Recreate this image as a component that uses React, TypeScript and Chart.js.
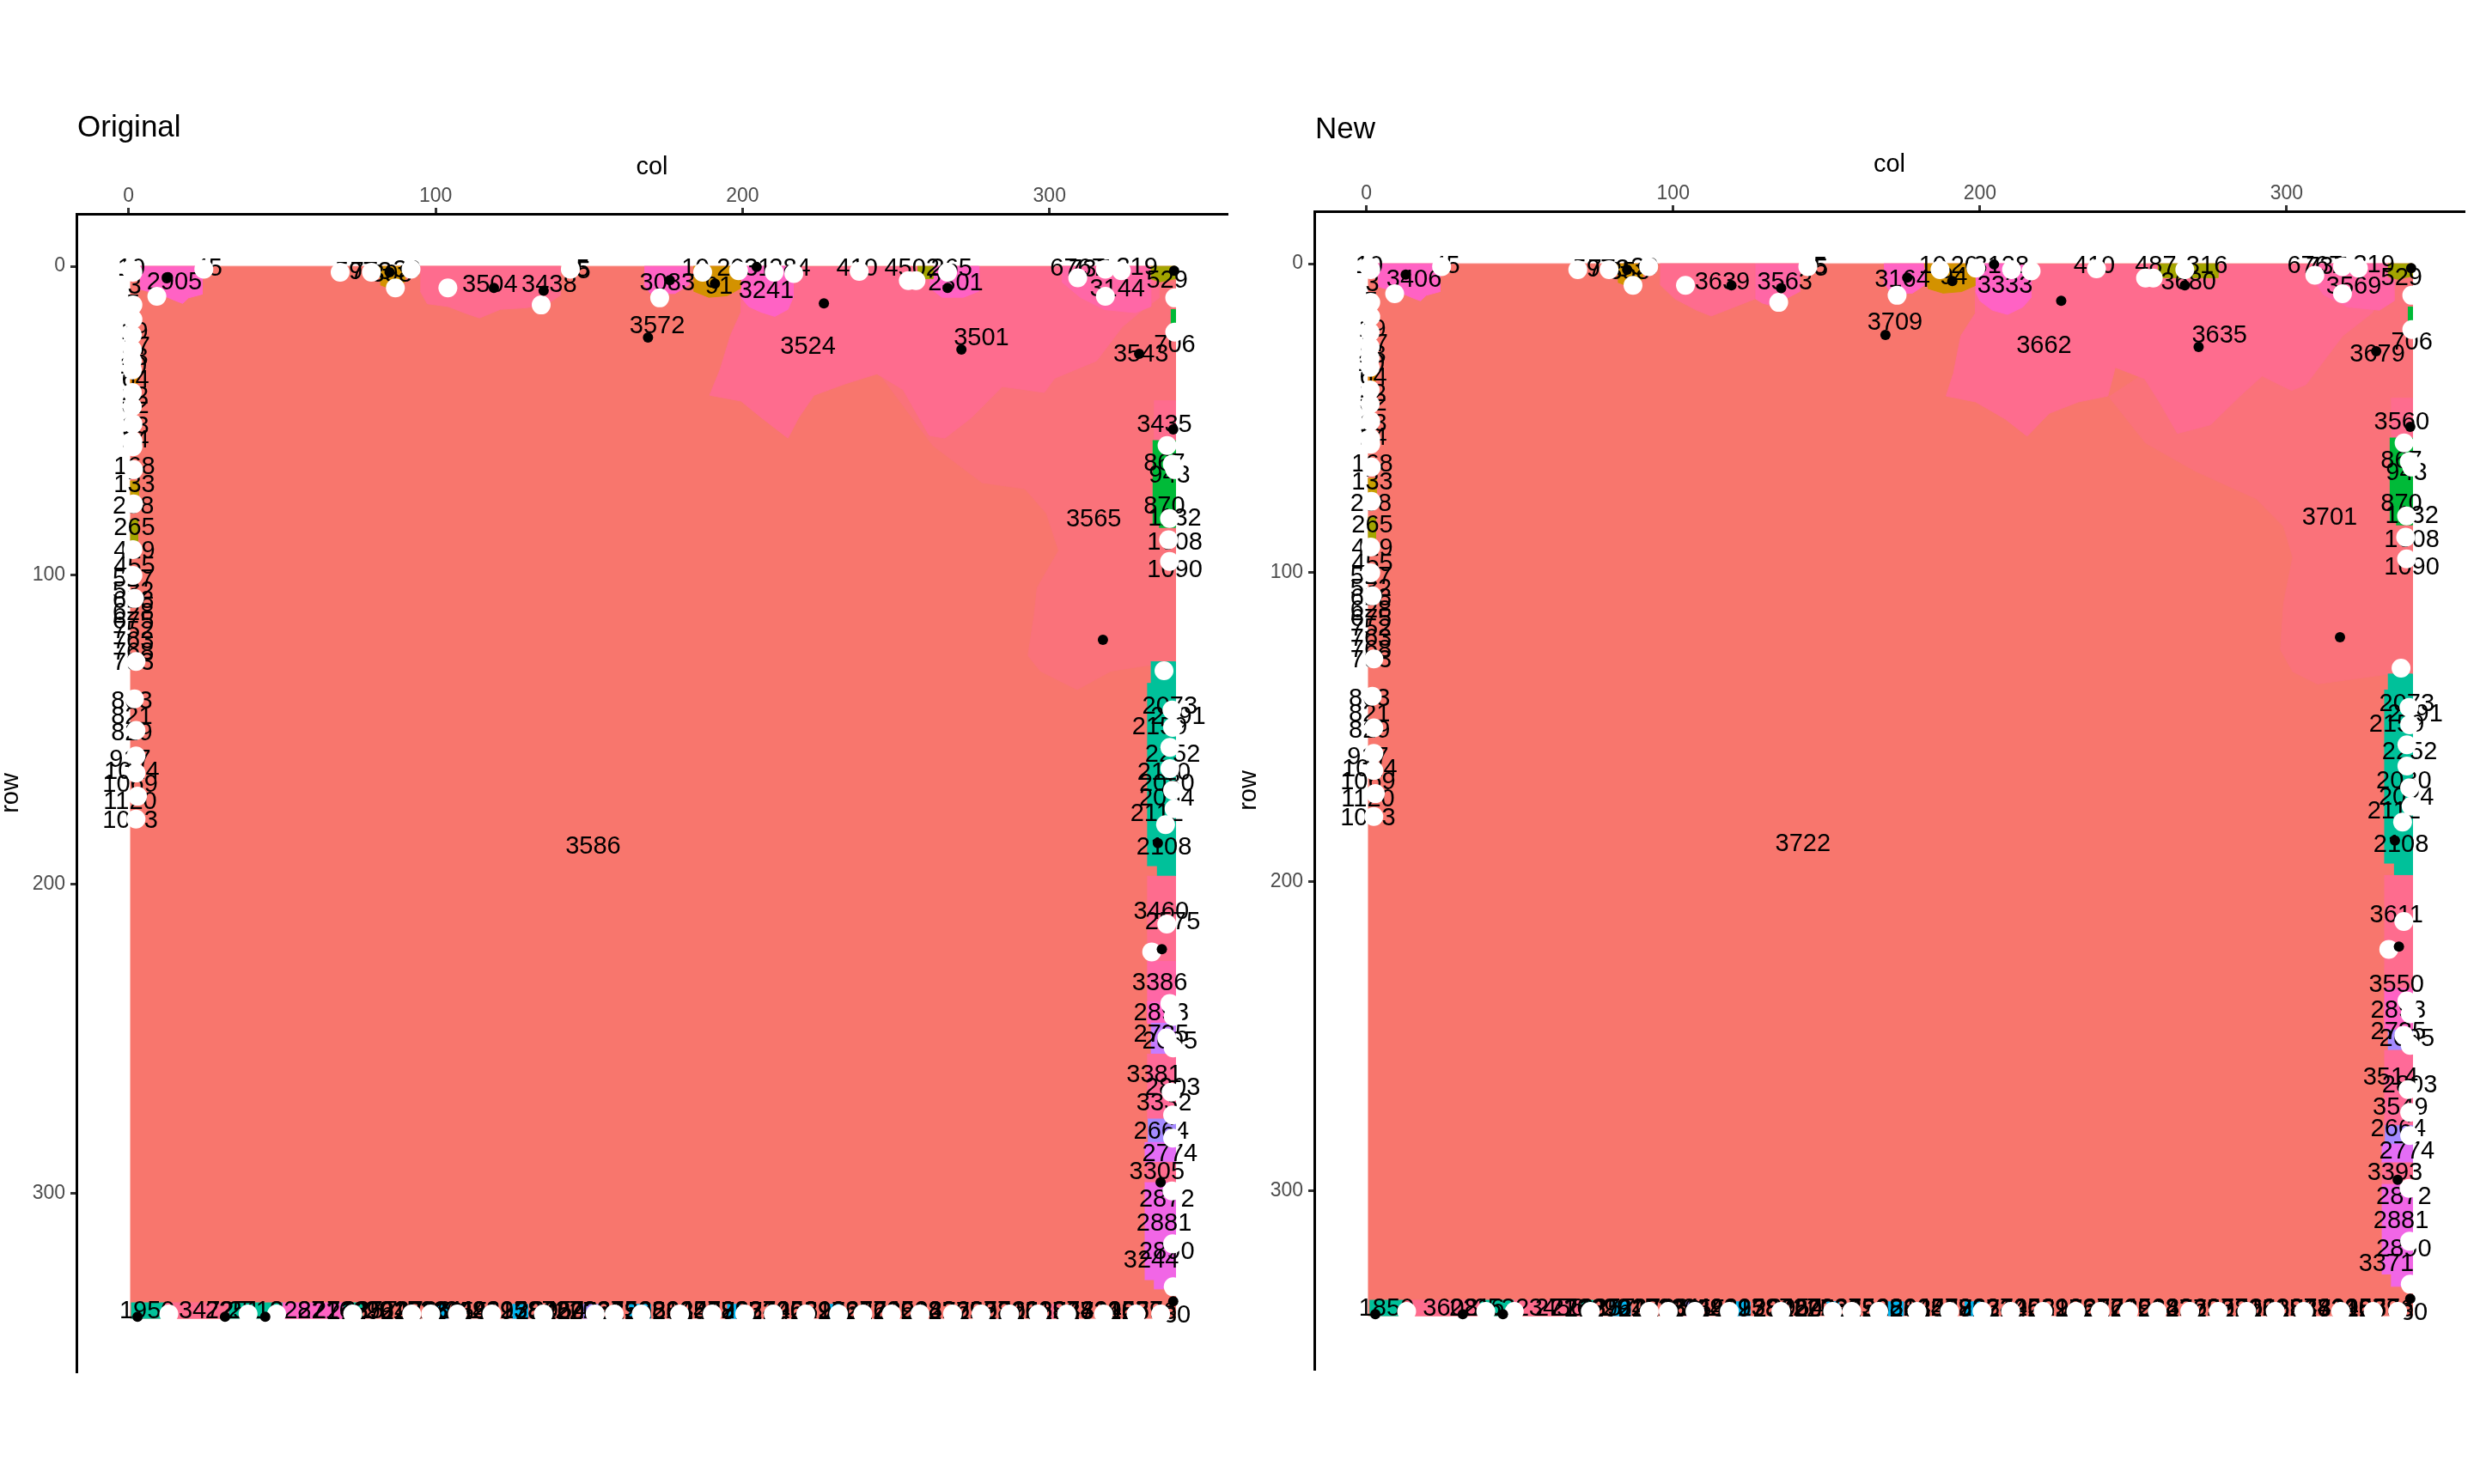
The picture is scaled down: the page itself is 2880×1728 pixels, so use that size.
import React, { useEffect, useRef } from 'react';
import { Chart, registerables } from 'chart.js';

Chart.register(...registerables);

type P = [number, number];
type L = [number, number, string];
type S = [string, number, number, number, number];

const FONT = '"Liberation Sans", Arial, Helvetica, sans-serif';

// axis ticks
const COL_TICKS = [0, 100, 200, 300];
const ROW_TICKS = [0, 100, 200, 300];
const AXIS_MIN = -17;
const AXIS_MAX = 358;

// region category colours
const PALETTE: Record<string, string> = {
  main: '#F8766D', soft: '#FA727A', hot: '#FE6C8E', hot2: '#FF6A98', pink2: '#FF67A6',
  magenta: '#FF62C4', ochre: '#D39200', olive: '#A3A500', gold: '#C8A000', orange: '#E58700',
  green: '#00BA38', teal: '#00C19A', cyan: '#00B4EF', purple: '#C77CFF', lavender: '#A58AFF',
  violet: '#E46DF6', orchid: '#F166E6',
};

// ---------- region outlines (col,row) ----------
const MAIN_AREA: P[] = [[0.5, 0], [341, 0], [341, 340.5], [0.5, 340.5]];

const ORIG_SOFT: P[] = [[244, 34], [262, 58], [278, 70], [292, 72], [299, 80], [303, 92], [296, 104], [295, 113], [293, 126], [297, 131], [309, 137], [320, 131], [333, 129], [341, 129], [341, 5], [300, 5]];
const ORIG_HOT: P[] = [[199.5, 0], [199.5, 14.8], [196.1, 22.3], [192.7, 33.4], [189.3, 41.7], [199.5, 43.6], [206.3, 49.1], [214.8, 55.6], [218.2, 49.1], [223.3, 41.7], [233.5, 38], [243.8, 34.8], [252.3, 39.9], [260.8, 54.7], [265.9, 55.6], [274.4, 49.1], [284.6, 38.9], [298.3, 40.8], [301.7, 36.2], [315.3, 30.6], [323.8, 19.5], [330.6, 13.9], [335.7, 10.2], [335.7, 0]];
const ORIG_HOT_SMALL: P[] = [[95, 0], [140.7, 0], [140.7, 9.3], [137.3, 11.6], [129.7, 13.4], [121.1, 13.9], [114.3, 16.7], [110.1, 15.3], [104.1, 13], [97.3, 12.1], [95, 8]];
const MAG_TOP_LEFT: P[] = [[3.7, 0], [24, 0], [24, 9], [19.5, 10.2], [17.6, 12], [15, 11], [11, 9.3], [3.7, 7.4]];
const OCHRE_A: P[] = [[81.5, 0], [90, 0], [90, 5], [86, 7.5], [82, 6]];
const ORIG_MAG_3083: P[] = [[168, 0], [182.5, 0], [182.5, 6], [178, 8.8], [170, 8.8], [168, 6]];
const ORIG_OCHRE_B: P[] = [[184, 0], [199.5, 0], [199.5, 7], [195, 9.5], [189, 10], [184, 8]];
const ORIG_MAG_3241: P[] = [[199.5, 0], [216.5, 0], [216.5, 10], [214.8, 13.9], [210.5, 16.2], [206, 14.8], [202, 13], [199.5, 10]];
const ORIG_MAG_2301: P[] = [[261, 0], [277, 0], [277, 8], [272, 10], [265, 10], [261, 7]];
const ORIG_OLIVE_A: P[] = [[257, 0], [262, 0], [262, 4], [257, 4]];
const ORIG_PINK_3144: P[] = [[304, 0], [333, 0], [333, 13], [328, 15], [318, 14], [310, 10], [304, 5]];
const OLIVE_TR: P[] = [[333, 0], [341, 0], [341, 4], [336, 5], [333, 4]];

const NEW_SOFT: P[] = [[242, 43], [254, 58], [270, 67], [290, 76], [299, 85], [302, 95], [299, 110], [298, 125], [302, 132], [310, 136], [332, 133], [341, 133], [341, 5], [300, 5]];
const NEW_HOT: P[] = [[198.6, 0], [198.6, 15.9], [193.8, 23.3], [191.4, 35.4], [189, 42.8], [198.6, 44.7], [208.2, 50.2], [215.4, 55.8], [222.6, 48.4], [232.1, 44.7], [241.7, 42.8], [244.1, 33.5], [253.7, 37.2], [258.5, 44.7], [264.4, 54.9], [275.2, 52.1], [284.8, 42.8], [292, 36.3], [301.6, 41], [306.3, 39.1], [318.3, 23.3], [327.9, 15.9], [330.3, 11.3], [330.3, 0]];
const NEW_HOT_SMALL: P[] = [[95.7, 0], [126.8, 0], [126.8, 11.3], [119.6, 14.1], [112.4, 16.9], [107.6, 15], [100.5, 11.3], [95.7, 6.7]];
const NEW_PINK_3563: P[] = [[126.8, 0], [141.2, 0], [141.2, 9], [136.4, 11.5], [134, 14.1], [129, 12.7], [126.8, 11.3]];
const NEW_MAG_3164: P[] = [[168.7, 0], [181.8, 0], [181.8, 7], [178, 9.5], [171, 9.5], [168.7, 6]];
const NEW_OCHRE_B: P[] = [[181.8, 0], [198.6, 0], [198.6, 7], [194, 9], [188, 9.5], [183, 8]];
const NEW_MAG_3333: P[] = [[198.6, 0], [216.6, 0], [216.6, 11], [214, 14], [209, 16.4], [204, 15], [200, 12], [198.6, 9]];
const NEW_OLIVE_B: P[] = [[258, 0], [277.6, 0], [277.6, 4.5], [258, 4.5]];
const NEW_PINK_3569: P[] = [[308.7, 0], [335, 0], [335, 12], [330.3, 15], [320, 14], [312, 10], [308.7, 5]];

// narrow edge strips: [category, col0, row0, col1, row1]
const ORIG_STRIPS: S[] = [
  ['hot', 334, 43.5, 341, 56.4], ['green', 333.6, 56.4, 341, 83.4], ['green', 335.7, 83.4, 341, 84.5], ['green', 339.5, 14, 341, 21],
  ['teal', 333, 128, 341, 135], ['teal', 331.8, 135, 341, 194], ['teal', 335, 194, 341, 197.4],
  ['hot', 331.8, 197.4, 341, 225], ['pink2', 331.8, 225, 341, 238], ['magenta', 331.8, 238, 341, 245],
  ['purple', 333, 245, 341, 255], ['hot2', 331.8, 255, 341, 276], ['lavender', 332, 276, 341, 283.6],
  ['violet', 331, 283.6, 341, 290], ['hot', 331, 290, 341, 296.6], ['orchid', 331, 296.6, 341, 328], ['orchid', 334, 328, 341, 331],
  ['orange', 0.5, 35.5, 3, 38], ['gold', 0.5, 69.5, 3.2, 75], ['olive', 0.5, 82, 3, 89],
  ['teal', 0.8, 335.5, 11.6, 340.5], ['hot', 11.6, 335.5, 32.7, 340.5], ['teal', 32.7, 335.5, 50.1, 340.5],
  ['magenta', 50.1, 335.5, 70, 340.5], ['teal', 70, 335.5, 76, 340.5], ['cyan', 100, 336, 104, 340.5],
  ['cyan', 125, 336, 130, 340.5], ['lavender', 148, 336, 153, 340.5], ['cyan', 163, 336, 170, 340.5],
  ['cyan', 195, 336, 199, 340.5], ['cyan', 228, 336, 232, 340.5], ['hot', 300, 336, 303, 340.5],
];
const NEW_STRIPS: S[] = [
  ['hot', 334, 43.5, 341, 56.4], ['green', 333.6, 56.4, 341, 83.4], ['green', 335.7, 83.4, 341, 84.5], ['green', 339.5, 14, 341, 21],
  ['teal', 333, 132.8, 341, 138], ['teal', 331.8, 138, 341, 194], ['teal', 335, 194, 341, 198],
  ['hot', 331.8, 198, 341, 234.6], ['magenta', 331.8, 234.6, 341, 248], ['lavender', 333, 248, 341, 254.6],
  ['hot2', 331.8, 254.6, 341, 279], ['lavender', 332, 279, 341, 285], ['violet', 331, 285, 341, 291],
  ['hot', 331, 291, 341, 298], ['orchid', 331, 298, 341, 327], ['orchid', 334, 327, 341, 331],
  ['orange', 0.5, 35.5, 3, 38], ['gold', 0.5, 69.5, 3.2, 75], ['olive', 0.5, 82, 3, 89],
  ['teal', 1, 335.5, 12, 340.5], ['hot', 13, 335.5, 37, 340.5], ['teal', 37, 335.5, 48, 340.5],
  ['hot', 48, 335.5, 70, 340.5], ['teal', 70, 335.5, 74, 340.5], ['cyan', 80, 336, 86, 340.5],
  ['lavender', 104, 336, 108, 340.5], ['cyan', 120, 336, 125, 340.5], ['cyan', 150, 336, 154, 340.5],
  ['cyan', 170, 336, 175, 340.5], ['cyan', 195, 336, 200, 340.5],
];

// ---------- text labels (col,row,text) ----------
const EDGE_LEFT_LABELS: L[] = [
  [1.9, 6.5, '3'], [1.5, 12.5, '5'], [1.9, 21.3, '19'], [2.5, 26, '17'], [1.9, 29.7, '13'], [1.5, 32.4, '10'],
  [2.2, 37, '64'], [2, 42.2, '12'], [2.2, 45.4, '32'], [2.2, 51.9, '13'], [2.2, 56.5, '14'], [1.9, 64.9, '168'],
  [1.9, 70.9, '133'], [1.5, 77.9, '208'], [1.9, 84.8, '265'], [1.9, 92.2, '419'], [1.9, 97.3, '455'], [1.5, 101.5, '517'],
  [1.5, 105.2, '532'], [1.5, 108.5, '658'], [1.5, 112.2, '628'], [1.5, 115, '675'], [1.5, 118.2, '752'], [1.5, 121.4, '763'],
  [1.5, 125.1, '768'], [1.5, 128.4, '793'], [1, 140.9, '803'], [1, 146, '821'], [1, 151.1, '829'], [0.5, 159.9, '917'],
  [1, 163.6, '1014'], [0.5, 167.8, '1069'], [0.5, 173.3, '1120'], [0.5, 179.4, '1093'],
];
const TOP_SMALL_LABELS: L[] = [
  [0.9, 0.9, '10'], [26, 0.9, '45'], [74, 1.9, '597'], [79, 1.9, '773'], [90.7, 1.4, '30'], [146, 1.5, '35'],
  [148, 1, '5'], [184.6, 0.9, '10'], [237.3, 0.9, '410'], [309.2, 0.9, '6767'], [313, 1.2, '737'], [328.5, 0.5, '319'],
  [340.8, 25.5, '706'],
];
const RIGHT_EDGE_LABELS: L[] = [
  [337.4, 64, '867'], [339.1, 67.7, '943'], [337.4, 77.9, '870'], [340.8, 81.6, '1132'], [340.8, 89.5, '1008'],
  [340.8, 98.3, '1090'], [339.2, 142.7, '2073'], [341.9, 145.9, '2191'], [335.9, 149.2, '2159'], [340.1, 158, '2252'],
  [335, 177.4, '2112'], [337.3, 188.1, '2108'], [336.4, 241.8, '2893'], [336.4, 248.8, '2735'], [339.2, 251.1, '2605'],
  [340.1, 265.9, '2803'], [336.4, 280.3, '2664'], [339.2, 287.3, '2774'], [338.2, 302.1, '2872'], [337.3, 310, '2881'],
  [338.2, 319.2, '2890'], [341.5, 339.6, '30'],
];
const BOTTOM_LABELS: L[] = [
  [64, 338.2, '2716'], [69, 338.2, '2748'], [78.6, 338.2, '3257'], [86, 338.2, '2915'], [96, 338.2, '2766'],
  [104, 338.2, '2841'], [112, 338.2, '2493'], [121, 338.2, '2615'], [130, 338.2, '2387'], [140, 338.2, '2954'],
  [148, 338.2, '2708'], [157, 338.2, '2679'], [166, 338.2, '2563'], [175, 338.2, '2812'], [184, 338.2, '2457'],
  [193, 338.2, '2398'], [202, 338.2, '2634'], [211, 338.2, '2726'], [220, 338.2, '2581'], [229, 338.2, '2903'],
  [238, 338.2, '2672'], [247, 338.2, '2749'], [256, 338.2, '2518'], [265, 338.2, '2836'], [274, 338.2, '2695'],
  [283, 338.2, '2770'], [292, 338.2, '2611'], [301, 338.2, '2884'], [310, 338.2, '2742'], [319, 338.2, '3195'],
  [328, 338.2, '2857'],
  [73.5, 338.6, '2187'], [82, 338.6, '2964'], [91, 338.6, '2271'], [100, 338.6, '2830'], [108, 338.6, '2655'],
  [116.5, 338.6, '2419'], [125.5, 338.6, '2978'], [135, 338.6, '2542'], [144, 338.6, '2603'], [152.5, 338.6, '2791'],
  [161.5, 338.6, '2436'], [170.5, 338.6, '2958'], [179.5, 338.6, '2684'], [188.5, 338.6, '2517'], [197.5, 338.6, '2862'],
  [206.5, 338.6, '2739'], [215.5, 338.6, '2405'], [224.5, 338.6, '2697'], [233.5, 338.6, '2921'], [242.5, 338.6, '2568'],
  [251.5, 338.6, '2804'], [260.5, 338.6, '2643'], [269.5, 338.6, '2779'], [278.5, 338.6, '2592'], [287.5, 338.6, '2815'],
  [296.5, 338.6, '2667'], [305.5, 338.6, '2938'], [314.5, 338.6, '2724'], [323.5, 338.6, '3108'], [332.5, 338.6, '2796'],
];

const ORIG_LABELS: L[] = [
  [14.9, 5.1, '2905'], [85.6, 2.8, '398'], [117.7, 6, '3504'], [137, 6, '3438'], [175.5, 5.6, '3083'], [192.3, 6.5, '91'],
  [196.1, 0.9, '20'], [205, 0.9, '31'], [215.4, 0.9, '284'], [207.7, 7.9, '3241'], [255.2, 0.9, '4502'], [268.1, 0.9, '265'],
  [269.4, 5.6, '2301'], [322.1, 7.4, '3144'], [338.3, 4.6, '529'], [172.2, 19.5, '3572'], [221.3, 26, '3524'],
  [277.8, 23.2, '3501'], [329.8, 28.7, '3543'], [337.4, 51.4, '3435'], [314.4, 82, '3565'], [151.3, 188, '3586'],
  [337.3, 164, '2110'], [338.2, 167.7, '2080'], [338.2, 172.3, '2054'], [336.4, 209, '3460'], [340.1, 212.2, '2575'],
  [335.9, 232.1, '3386'], [334.1, 261.8, '3381'], [337.3, 271, '3332'], [335, 293.3, '3305'], [333.1, 322, '3244'],
  [6, 338.2, '1950'], [25.3, 338.2, '3472'], [33.9, 338.2, '2251'], [41.4, 338.2, '2510'], [55, 338.2, '3282'],
];
const NEW_LABELS: L[] = [
  [15.5, 5.3, '3406'], [85.6, 2.8, '358'], [116, 6.2, '3639'], [136.4, 6.2, '3563'], [174.7, 5.3, '3164'], [191.4, 4.4, '94'],
  [195, 0.9, '20'], [207, 0.9, '3128'], [208.2, 7.1, '3333'], [257.3, 0.9, '487'], [274, 0.9, '316'], [268, 6.2, '3680'],
  [321.9, 7.6, '3569'], [337.5, 4.8, '529'], [172.3, 19.2, '3709'], [220.9, 26.6, '3662'], [278.1, 23.3, '3635'],
  [329.6, 29.4, '3679'], [337.5, 51.3, '3560'], [314, 82.2, '3701'], [142.3, 188, '3722'], [338.2, 167.6, '2030'],
  [339, 172.8, '2024'], [335.8, 210.9, '3611'], [335.8, 233.4, '3550'], [333.9, 263.4, '3514'], [337.1, 273.1, '3549'],
  [335.3, 294.4, '3393'], [332.5, 323.9, '3371'],
  [6.5, 338.2, '1850'], [27.4, 338.2, '3608'], [36, 338.2, '2216'], [44, 338.2, '2532'], [62, 338.2, '3456'],
];

// ---------- points ----------
const WHITE_POINTS: P[] = [
  // top edge
  [0.7, 0.9], [9.2, 9.7], [24.5, 0.9], [68.9, 1.9], [79.1, 1.9], [86.9, 7], [92, 0.9], [104, 7], [134.4, 12.5], [143.9, 0.9],
  [173, 10.2], [187, 1.9], [198.7, 1.4], [210.3, 1.9], [216.7, 2.3], [238, 1.6], [254, 4.6], [256.5, 4.6], [266.8, 1.9],
  [309.2, 3.7], [318.2, 0.9], [323.4, 1.4], [318.2, 9.7], [340.8, 10.2], [340.8, 21.3],
  // left edge
  [1.4, 1.9], [1.4, 12.5], [1.4, 17.1], [1.2, 22.2], [1.2, 26.9], [1.2, 30.6], [1.2, 33.5], [1.2, 40.8], [1.2, 45.4],
  [1.4, 51], [1.4, 56.5], [1.4, 58.4], [1.6, 65.8], [1.6, 76.9], [1.4, 91.7], [1.4, 100], [1.9, 107.5], [2.4, 127.9],
  [1.9, 140], [2.4, 150.2], [2.4, 158.5], [2.4, 164], [2.9, 171.5], [2.4, 178.9],
  // right edge
  [338.3, 58], [340, 64], [340.8, 65.8], [339.1, 81.6], [338.8, 88.5], [339.1, 95.5], [337.3, 130.9], [339.9, 143.6],
  [340.1, 149.2], [339.2, 155.7], [339.2, 162.6], [340.1, 169.6], [340.6, 175.6], [337.8, 180.7], [338.2, 212.9],
  [333.3, 221.9], [339.2, 238.6], [340.3, 242.8], [338.2, 249.7], [340.3, 253], [339.6, 267.3], [340.1, 274.7],
  [340.1, 282.2], [339.9, 299.3], [340.1, 316.4], [340.3, 330.3],
  // bottom edge
  [13.1, 339.1], [38.9, 339.1], [48.2, 339.1], [73, 339.1], [92.2, 339.1], [98.4, 339.1], [107.1, 339.1], [118.3, 339.1],
  [135.1, 339.1], [152, 339.1], [158.2, 339.1], [167, 339.1], [179.5, 339.1], [190.1, 339.1], [200.7, 339.1], [210, 339.1],
  [220.6, 339.1], [231.3, 339.1], [239.2, 339.1], [248.5, 339.1], [257.8, 339.1], [268.4, 339.1], [277.7, 339.1],
  [287, 339.1], [296.3, 339.1], [305.6, 339.1], [317.6, 339.1], [328.2, 339.1], [336.2, 339.1],
];
const BLACK_POINTS: P[] = [
  [12.8, 3.5], [85, 1.9], [119, 7], [135.2, 7.9], [176.3, 4.5], [191, 5.6], [204.6, 0.2], [226.5, 12], [266.8, 7],
  [340.6, 1.4], [169.2, 23], [271.3, 26.9], [329.2, 28.3], [340.3, 52.8], [317.4, 120.9], [335.3, 186.7], [336.6, 221],
  [336.2, 296.5], [340.3, 335], [2.9, 340], [31.4, 340], [44.5, 340],
];

type RegionList = [string, P[]][];

function stripsToRegions(strips: S[]): RegionList {
  return strips.map(([k, c0, r0, c1, r1]) => [k, [[c0, r0], [c1, r0], [c1, r1], [c0, r1]]] as [string, P[]]);
}

const ORIG_REGIONS: RegionList = [
  ['main', MAIN_AREA], ['soft', ORIG_SOFT], ['hot', ORIG_HOT], ['hot', ORIG_HOT_SMALL], ['magenta', MAG_TOP_LEFT],
  ['ochre', OCHRE_A], ['magenta', ORIG_MAG_3083], ['ochre', ORIG_OCHRE_B], ['magenta', ORIG_MAG_3241],
  ['magenta', ORIG_MAG_2301], ['olive', ORIG_OLIVE_A], ['pink2', ORIG_PINK_3144], ['olive', OLIVE_TR],
  ...stripsToRegions(ORIG_STRIPS),
];
const NEW_REGIONS: RegionList = [
  ['main', MAIN_AREA], ['soft', NEW_SOFT], ['hot', NEW_HOT], ['hot', NEW_HOT_SMALL], ['pink2', NEW_PINK_3563],
  ['magenta', MAG_TOP_LEFT], ['ochre', OCHRE_A], ['magenta', NEW_MAG_3164], ['ochre', NEW_OCHRE_B],
  ['magenta', NEW_MAG_3333], ['olive', NEW_OLIVE_B], ['pink2', NEW_PINK_3569], ['olive', OLIVE_TR],
  ...stripsToRegions(NEW_STRIPS),
];

const PAD_TOP = 160;

function Panel(props: { title: string; regions: RegionList; labels: L[]; left: number; top: number; width: number; titleY: number; padRight: number }) {
  const ref = useRef<HTMLCanvasElement>(null);
  useEffect(() => {
    const canvas = ref.current;
    if (!canvas) return;
    const { title, regions, labels, titleY, padRight } = props;
    const regionSets = regions.map(([k, poly], i) => ({
      data: poly.map(([x, y]) => ({ x, y })),
      showLine: true,
      fill: 'shape',
      backgroundColor: PALETTE[k],
      borderColor: PALETTE[k],
      borderWidth: 1,
      pointRadius: 0,
      pointHoverRadius: 0,
      tension: 0,
      order: 1000 - i,
    }));
    const labelIndex = regionSets.length;
    const texts = labels.map((l) => l[2]);
    const datasets: any[] = [
      ...regionSets,
      { data: labels.map(([x, y]) => ({ x, y })), showLine: false, pointRadius: 0, pointHoverRadius: 0, order: 3 },
      { data: WHITE_POINTS.map(([x, y]) => ({ x, y })), showLine: false, pointRadius: 11, pointHoverRadius: 11, pointBackgroundColor: '#FFFFFF', pointBorderColor: '#FFFFFF', pointBorderWidth: 0, order: 2 },
      { data: BLACK_POINTS.map(([x, y]) => ({ x, y })), showLine: false, pointRadius: 6, pointHoverRadius: 6, pointBackgroundColor: '#000000', pointBorderColor: '#000000', pointBorderWidth: 0, order: 1 },
    ];
    const textPlugin = {
      id: 'cellText',
      afterDatasetDraw(chart: any, args: any) {
        if (args.index !== labelIndex) return;
        const ctx = chart.ctx;
        const a = chart.chartArea;
        ctx.save();
        ctx.beginPath();
        ctx.rect(a.left, a.top, a.right - a.left, a.bottom - a.top);
        ctx.clip();
        ctx.font = `29px ${FONT}`;
        ctx.fillStyle = '#000000';
        ctx.textAlign = 'center';
        ctx.textBaseline = 'middle';
        args.meta.data.forEach((el: any, i: number) => ctx.fillText(texts[i], el.x, el.y));
        ctx.restore();
      },
    };
    const titlePlugin = {
      id: 'panelTitle',
      afterDraw(chart: any) {
        const ctx = chart.ctx;
        ctx.save();
        ctx.font = `35px ${FONT}`;
        ctx.fillStyle = '#000000';
        ctx.textAlign = 'left';
        ctx.textBaseline = 'alphabetic';
        ctx.fillText(title, 90, titleY);
        ctx.restore();
      },
    };
    const axisCommon = (ticks: number[]) => ({
      type: 'linear',
      min: AXIS_MIN,
      max: AXIS_MAX,
      afterBuildTicks: (s: any) => { s.ticks = ticks.map((v) => ({ value: v })); },
      grid: { display: true, drawOnChartArea: false, drawTicks: true, tickLength: 7, tickWidth: 3, tickColor: '#333333', color: '#333333' },
      border: { display: true, color: '#000000', width: 3 },
    });
    const chart = new Chart(canvas, {
      type: 'scatter',
      data: { datasets },
      options: {
        responsive: false,
        animation: false,
        devicePixelRatio: 1,
        events: [],
        layout: { padding: { top: PAD_TOP, left: 0, right: padRight, bottom: 130 } },
        plugins: { legend: { display: false }, tooltip: { enabled: false }, title: { display: false } },
        scales: {
          x: {
            ...axisCommon(COL_TICKS),
            position: 'top',
            afterFit: (s: any) => { s.height = 249 - PAD_TOP; },
            ticks: { color: '#4D4D4D', font: { size: 23, family: FONT }, padding: 0, maxRotation: 0, autoSkip: false },
            title: { display: true, text: 'col', color: '#000000', font: { size: 29, family: FONT }, padding: { top: 18, bottom: 0 } },
          },
          y: {
            ...axisCommon(ROW_TICKS),
            position: 'left',
            reverse: true,
            afterFit: (s: any) => { s.width = 89; },
            ticks: { color: '#4D4D4D', font: { size: 23, family: FONT }, padding: 6, autoSkip: false },
            title: { display: true, text: 'row', color: '#000000', font: { size: 29, family: FONT }, padding: { top: -4, bottom: 0 } },
          },
        },
      } as any,
      plugins: [textPlugin, titlePlugin],
    } as any);
    return () => chart.destroy();
  }, []);
  return (
    <canvas
      ref={ref}
      width={props.width}
      height={1728}
      style={{ position: 'absolute', left: props.left, top: props.top, width: props.width, height: 1728 }}
    />
  );
}

export default function App() {
  const origLabels = [...EDGE_LEFT_LABELS, ...TOP_SMALL_LABELS, ...RIGHT_EDGE_LABELS, ...BOTTOM_LABELS, ...ORIG_LABELS];
  const newLabels = [...EDGE_LEFT_LABELS, ...TOP_SMALL_LABELS, ...RIGHT_EDGE_LABELS, ...BOTTOM_LABELS, ...NEW_LABELS];
  return (
    <div style={{ position: 'absolute', left: 0, top: 0, width: 2880, height: 1728, background: '#FFFFFF', overflow: 'hidden' }}>
      <Panel title="Original" regions={ORIG_REGIONS} labels={origLabels} left={0} top={0} width={1440} titleY={159} padRight={2} />
      <Panel title="New" regions={NEW_REGIONS} labels={newLabels} left={1441} top={-3} width={1439} titleY={164} padRight={2} />
    </div>
  );
}
